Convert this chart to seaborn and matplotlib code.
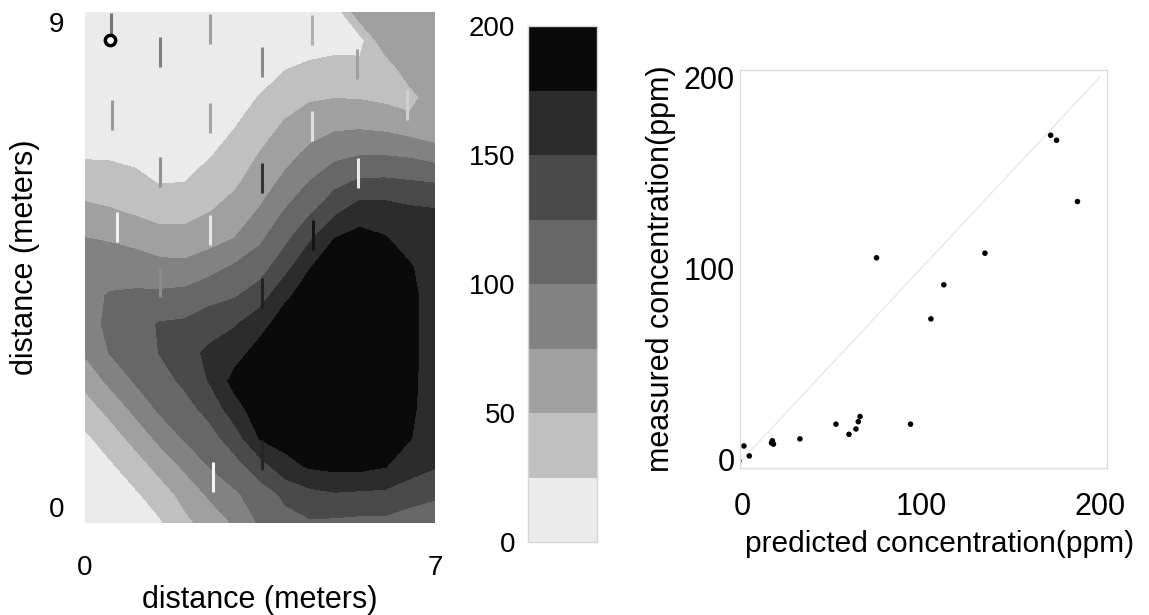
"""
Concentration map (kriged field + sample wells) and predicted vs measured check.
"""
import numpy as np
import matplotlib
matplotlib.use('Agg')
import matplotlib.pyplot as plt
import seaborn as sns

sns.set_style('white')
plt.rcParams['font.family'] = ['Liberation Sans', 'DejaVu Sans']
plt.rcParams['text.color'] = 'black'
plt.rcParams['axes.labelcolor'] = 'black'
plt.rcParams['xtick.color'] = 'black'
plt.rcParams['ytick.color'] = 'black'

# --- field grid (metres) ---
x_m = np.linspace(0, 7, 15)
y_m = np.linspace(9, 0, 19)   # rows listed from top (9 m) to bottom (0 m)

# concentration (ppm), one row per 0.5 m, top to bottom
conc_rows = [
    [5, 5, 5, 5, 5, 6, 6, 7, 8, 8, 8, 70, 70, 70, 70],
    [7, 7, 7, 8, 8, 8, 9, 10, 12, 13, 16, 15, 70, 70, 70],
    [9, 9, 10, 10, 10, 11, 12, 15, 24, 30, 33, 33, 30, 70, 70],
    [12, 12, 13, 13, 13, 14, 16, 26, 39, 47, 49, 48, 44, 38, 70],
    [17, 17, 17, 16, 16, 18, 24, 38, 53, 63, 70, 71, 68, 61, 52],
    [22, 22, 21, 20, 20, 23, 35, 51, 66, 81, 93, 98, 98, 95, 88],
    [37, 34, 29, 24, 25, 36, 46, 63, 81, 101, 118, 129, 130, 127, 124],
    [56, 52, 46, 40, 41, 49, 60, 77, 101, 121, 144, 162, 161, 155, 152],
    [76, 73, 68, 60, 59, 66, 76, 96, 119, 147, 176, 184, 177, 165, 160],
    [84, 89, 88, 83, 82, 91, 104, 114, 141, 174, 190, 193, 189, 177, 163],
    [92, 102, 104, 105, 108, 118, 123, 138, 170, 188, 197, 197, 192, 180, 165],
    [85, 108, 115, 127, 129, 137, 148, 166, 188, 196, 199, 199, 193, 180, 165],
    [78, 101, 110, 126, 140, 156, 165, 185, 195, 198, 199, 199, 193, 180, 165],
    [57, 81, 102, 115, 130, 152, 184, 192, 196, 198, 199, 199, 193, 180, 164],
    [38, 57, 81, 104, 116, 133, 164, 190, 193, 196, 198, 198, 191, 179, 163],
    [20, 38, 58, 82, 103, 116, 138, 177, 185, 190, 194, 194, 187, 176, 160],
    [14, 21, 38, 58, 80, 101, 116, 138, 166, 178, 182, 182, 176, 163, 152],
    [9, 12, 21, 38, 58, 79, 96, 113, 129, 142, 147, 145, 144, 133, 128],
    [5, 6, 12, 22, 44, 60, 78, 103, 118, 122, 120, 118, 118, 115, 112],
]
levels = [0, 25, 50, 75, 100, 125, 150, 175, 200]
band_colors = ['#ebebeb', '#c0c0c0', '#a0a0a0', '#828282',
               '#676767', '#4a4a4a', '#2c2c2c', '#0a0a0a']

# sample wells (m) and the grey they are drawn in
well_x = [0.52, 1.5, 2.5, 4.54, 3.54, 5.44, 0.54, 2.5, 4.54, 6.44,
          1.5, 3.54, 5.46, 0.64, 2.5, 4.56, 1.5, 3.54, 2.56, 3.54]
well_y = [8.72, 8.3, 8.7, 8.68, 8.12, 8.08, 7.19, 7.13, 7.0, 7.36,
          6.18, 6.08, 6.17, 5.21, 5.16, 5.07, 4.25, 4.05, 0.81, 1.2]
well_shade = ['#777777', '#808080', '#a0a0a0', '#b0b0b0', '#8a8a8a', '#a0a0a0',
              '#999999', '#a5a5a5', '#e0e0e0', '#d0d0d0', '#909090', '#333333',
              '#e8e8e8', '#f0f0f0', '#e8e8e8', '#151515', '#8c8c8c', '#222222',
              '#f5f5f5', '#252525']
origin_x = [0.5]
origin_y = [8.5]

# predicted vs measured (ppm)
predicted = [172.5, 175.8, 187.5, 75.2, 135.8, 112.8, 105.6, 94.2, 52.5, 59.8,
             63.7, 65.0, 66.0, 32.4, 16.5, 17.6, 17.0, 1.1, 4.1, -1.7]
measured = [169.6, 167.0, 135.0, 105.6, 108.0, 91.5, 73.7, 18.7, 18.7, 13.4,
            16.2, 20.0, 22.7, 11.0, 8.9, 8.3, 10.0, 7.3, 2.1, -0.4]

W, H = 1149, 615
fig = plt.figure(figsize=(W / 100, H / 100), dpi=100)
fs_tick = 20
fs_big = 22

# ---- contour map ----
ax1 = fig.add_axes([85 / W, 1 - 523 / H, 350 / W, 511 / H])
conc = np.array(conc_rows, dtype=float)
cs = ax1.contourf(x_m, y_m, conc, levels=levels, colors=band_colors)
ax1.scatter(well_x, well_y, marker='|', s=470, c=well_shade, linewidths=2.2, zorder=3)
ax1.scatter(origin_x, origin_y, marker='o', s=55, facecolor='white',
            edgecolor='black', linewidths=2.5, zorder=4)
ax1.set_xlim(x_m.min(), x_m.max())
ax1.set_ylim(y_m.min(), y_m.max())
for s in ax1.spines.values():
    s.set_visible(False)
ax1.set_xticks([0, 7])
ax1.set_yticks([0, 9])
ax1.tick_params(axis='x', length=0, labelsize=fs_tick, pad=23)
ax1.tick_params(axis='y', length=0, labelsize=fs_tick, pad=15)
yl = ax1.get_yticklabels()
yl[0].set_va('bottom')
yl[1].set_va('top')
ax1.set_xlabel('distance (meters)', fontsize=fs_big)
ax1.set_ylabel('distance (meters)', fontsize=fs_big)
ax1.xaxis.set_label_coords(0.5, -0.122)
ax1.yaxis.set_label_coords(-0.128, 0.52)

# ---- colour bar ----
cax = fig.add_axes([528 / W, 1 - 542 / H, 69 / W, 516 / H])
cb = fig.colorbar(cs, cax=cax, ticks=[0, 50, 100, 150, 200])
cb.outline.set_edgecolor('#d5d5d5')
cb.outline.set_linewidth(1)
cax.yaxis.set_ticks_position('left')
cax.tick_params(length=0, labelsize=fs_tick, pad=9)

# ---- predicted vs measured ----
ax2 = fig.add_axes([740 / W, 1 - 468 / H, 367 / W, 398 / H])
lims = [0, 200]
ax2.plot(lims, lims, color='#ececec', lw=1.2, zorder=1)
sns.scatterplot(x=predicted, y=measured, ax=ax2, color='black', s=16,
                edgecolor='none', zorder=2)
ax2.set_xlim(-1.1, 204)
ax2.set_ylim(-4.2, 203.7)
ax2.set_xticks([0, 100, 200])
ax2.set_yticks([0, 100, 200])
ax2.tick_params(axis='x', length=0, labelsize=fs_big, pad=17)
ax2.tick_params(axis='y', length=0, labelsize=fs_big, pad=4)
for s in ax2.spines.values():
    s.set_color('#dddddd')
    s.set_linewidth(1)
ax2.set_xlabel('predicted concentration(ppm)', fontsize=21.5)
ax2.set_ylabel('measured concentration(ppm)', fontsize=fs_big)
ax2.xaxis.set_label_coords(0.545, -0.155)
ax2.yaxis.set_label_coords(-0.175, 0.5)

fig.savefig('out.png', dpi=100)
